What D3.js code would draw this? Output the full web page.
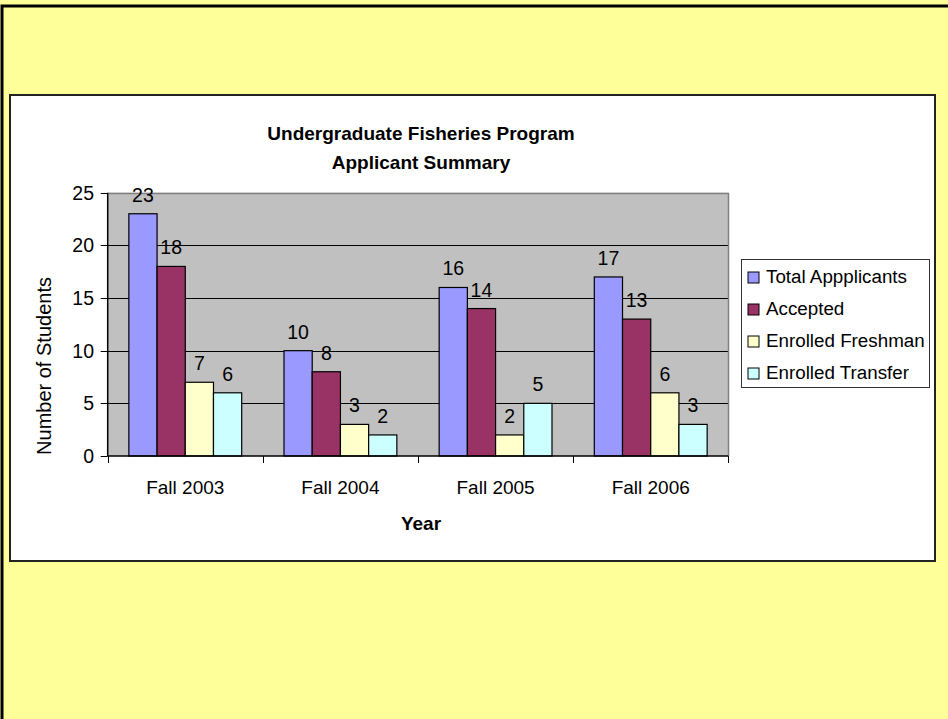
<!DOCTYPE html>
<html>
<head>
<script src="https://cdn.jsdelivr.net/npm/d3@7"></script>
<style>
  body { margin: 0; background: #ffff99; overflow: hidden; }
  svg text { font-family: Arial, "Liberation Sans", sans-serif; fill: #000; }
</style>
</head>
<body>
<svg id="viz"></svg>
<script>
// chart values
var years = ["Fall 2003", "Fall 2004", "Fall 2005", "Fall 2006"];
var seriesNames = ["Total Appplicants", "Accepted", "Enrolled Freshman", "Enrolled Transfer"];
var totalApplicants = [23, 10, 16, 17];
var accepted = [18, 8, 14, 13];
var enrolledFreshman = [7, 3, 2, 6];
var enrolledTransfer = [6, 2, 5, 3];
var yTicks = [0, 5, 10, 15, 20, 25];
var colors = ["#9999ff", "#993366", "#ffffcc", "#ccffff"];

var allSeries = [totalApplicants, accepted, enrolledFreshman, enrolledTransfer];

var width = 948, height = 719;
var svg = d3.select("#viz").attr("width", width).attr("height", height);

// slide background + border
svg.append("rect").attr("x", 2).attr("y", 6).attr("width", 1000).attr("height", 1000)
  .attr("fill", "#ffff99").attr("stroke", "#000").attr("stroke-width", 3);

// chart area
svg.append("rect").attr("x", 10).attr("y", 95).attr("width", 925).attr("height", 466)
  .attr("fill", "#fff").attr("stroke", "#222").attr("stroke-width", 2);

var plot = { left: 107.7, right: 728.3, top: 192.7, bottom: 456 };

var x0 = d3.scaleBand().domain(years).range([plot.left, plot.right]).padding(0);
var barW = x0.step() / 5.5;
var x1 = d3.scaleBand().domain(seriesNames).range([0, barW * 4]).padding(0);
var y = d3.scaleLinear().domain([0, 25]).range([plot.bottom, plot.top]);

// plot background
svg.append("rect").attr("x", plot.left).attr("y", plot.top)
  .attr("width", plot.right - plot.left).attr("height", plot.bottom - plot.top)
  .attr("fill", "#c0c0c0");

// gridlines
svg.append("g").selectAll("line").data(yTicks.filter(function(d){ return d > 0 && d < 25; }))
  .enter().append("line")
  .attr("x1", plot.left).attr("x2", plot.right)
  .attr("y1", function(d){ return Math.round(y(d)) + 0.5; })
  .attr("y2", function(d){ return Math.round(y(d)) + 0.5; })
  .attr("stroke", "#000").attr("stroke-width", 1);

// plot border (top / right gray)
svg.append("path")
  .attr("d", "M" + plot.left + "," + (Math.round(plot.top) + 0.5) + "H" + (Math.round(plot.right) + 0.5) + "V" + plot.bottom)
  .attr("fill", "none").attr("stroke", "#808080").attr("stroke-width", 1.5);

// bars
var groups = svg.append("g").selectAll("g").data(years).enter().append("g")
  .attr("transform", function(d){ return "translate(" + (x0(d) + barW * 0.75) + ",0)"; });

groups.each(function(yr, i) {
  var g = d3.select(this);
  var vals = allSeries.map(function(s, j){ return { name: seriesNames[j], v: s[i], c: colors[j] }; });
  g.selectAll("rect").data(vals).enter().append("rect")
    .attr("x", function(d){ return x1(d.name); })
    .attr("y", function(d){ return y(d.v); })
    .attr("width", x1.bandwidth())
    .attr("height", function(d){ return y(0) - y(d.v); })
    .attr("fill", function(d){ return d.c; })
    .attr("stroke", "#000").attr("stroke-width", 1.2);
  g.selectAll("text").data(vals).enter().append("text")
    .attr("x", function(d){ return x1(d.name) + x1.bandwidth() / 2; })
    .attr("y", function(d){ return y(d.v) - 12; })
    .attr("text-anchor", "middle").attr("font-size", 19.5)
    .text(function(d){ return d.v; });
});

// y axis
var yAxis = svg.append("g");
yAxis.append("line").attr("x1", plot.left).attr("x2", plot.left)
  .attr("y1", plot.top).attr("y2", plot.bottom).attr("stroke", "#000").attr("stroke-width", 1.5);
yAxis.selectAll(".tk").data(yTicks).enter().append("line")
  .attr("x1", plot.left - 7).attr("x2", plot.left)
  .attr("y1", function(d){ return Math.round(y(d)) + 0.5; })
  .attr("y2", function(d){ return Math.round(y(d)) + 0.5; })
  .attr("stroke", "#000");
yAxis.selectAll("text").data(yTicks).enter().append("text")
  .attr("x", 94).attr("y", function(d){ return y(d) + 7; })
  .attr("text-anchor", "end").attr("font-size", 19.5)
  .text(function(d){ return d; });

// x axis
var xAxis = svg.append("g");
xAxis.append("line").attr("x1", plot.left).attr("x2", plot.right)
  .attr("y1", plot.bottom).attr("y2", plot.bottom).attr("stroke", "#000").attr("stroke-width", 1.5);
var bounds = years.map(function(d){ return x0(d); }).concat([plot.right]);
xAxis.selectAll(".tk").data(bounds).enter().append("line")
  .attr("x1", function(d){ return Math.round(d) + 0.5; })
  .attr("x2", function(d){ return Math.round(d) + 0.5; })
  .attr("y1", plot.bottom).attr("y2", plot.bottom + 7)
  .attr("stroke", "#000");
xAxis.selectAll("text").data(years).enter().append("text")
  .attr("x", function(d){ return x0(d) + x0.bandwidth() / 2; })
  .attr("y", 494).attr("text-anchor", "middle").attr("font-size", 19)
  .text(function(d){ return d; });

// titles
var cx = (plot.left + plot.right) / 2 + 3;
svg.append("text").attr("x", cx).attr("y", 140).attr("text-anchor", "middle")
  .attr("font-size", 19).attr("font-weight", "bold").text("Undergraduate Fisheries Program");
svg.append("text").attr("x", cx).attr("y", 169).attr("text-anchor", "middle")
  .attr("font-size", 19).attr("font-weight", "bold").text("Applicant Summary");
svg.append("text").attr("x", cx).attr("y", 530).attr("text-anchor", "middle")
  .attr("font-size", 19).attr("font-weight", "bold").text("Year");
svg.append("text").attr("transform", "translate(51,366) rotate(-90)")
  .attr("text-anchor", "middle").attr("font-size", 20).text("Number of Students");

// legend
var legend = svg.append("g");
legend.append("rect").attr("x", 741.5).attr("y", 259.5).attr("width", 188).attr("height", 128)
  .attr("fill", "#fff").attr("stroke", "#333").attr("stroke-width", 1);
var items = legend.selectAll(".item").data(seriesNames).enter().append("g")
  .attr("transform", function(d, i){ return "translate(0," + (283 + i * 32) + ")"; });
items.append("rect").attr("x", 748).attr("y", -11).attr("width", 11).attr("height", 11)
  .attr("fill", function(d, i){ return colors[i]; }).attr("stroke", "#000").attr("stroke-width", 1);
items.append("text").attr("x", 766).attr("y", 0).attr("font-size", 18.8)
  .text(function(d){ return d; });
</script>
</body>
</html>
